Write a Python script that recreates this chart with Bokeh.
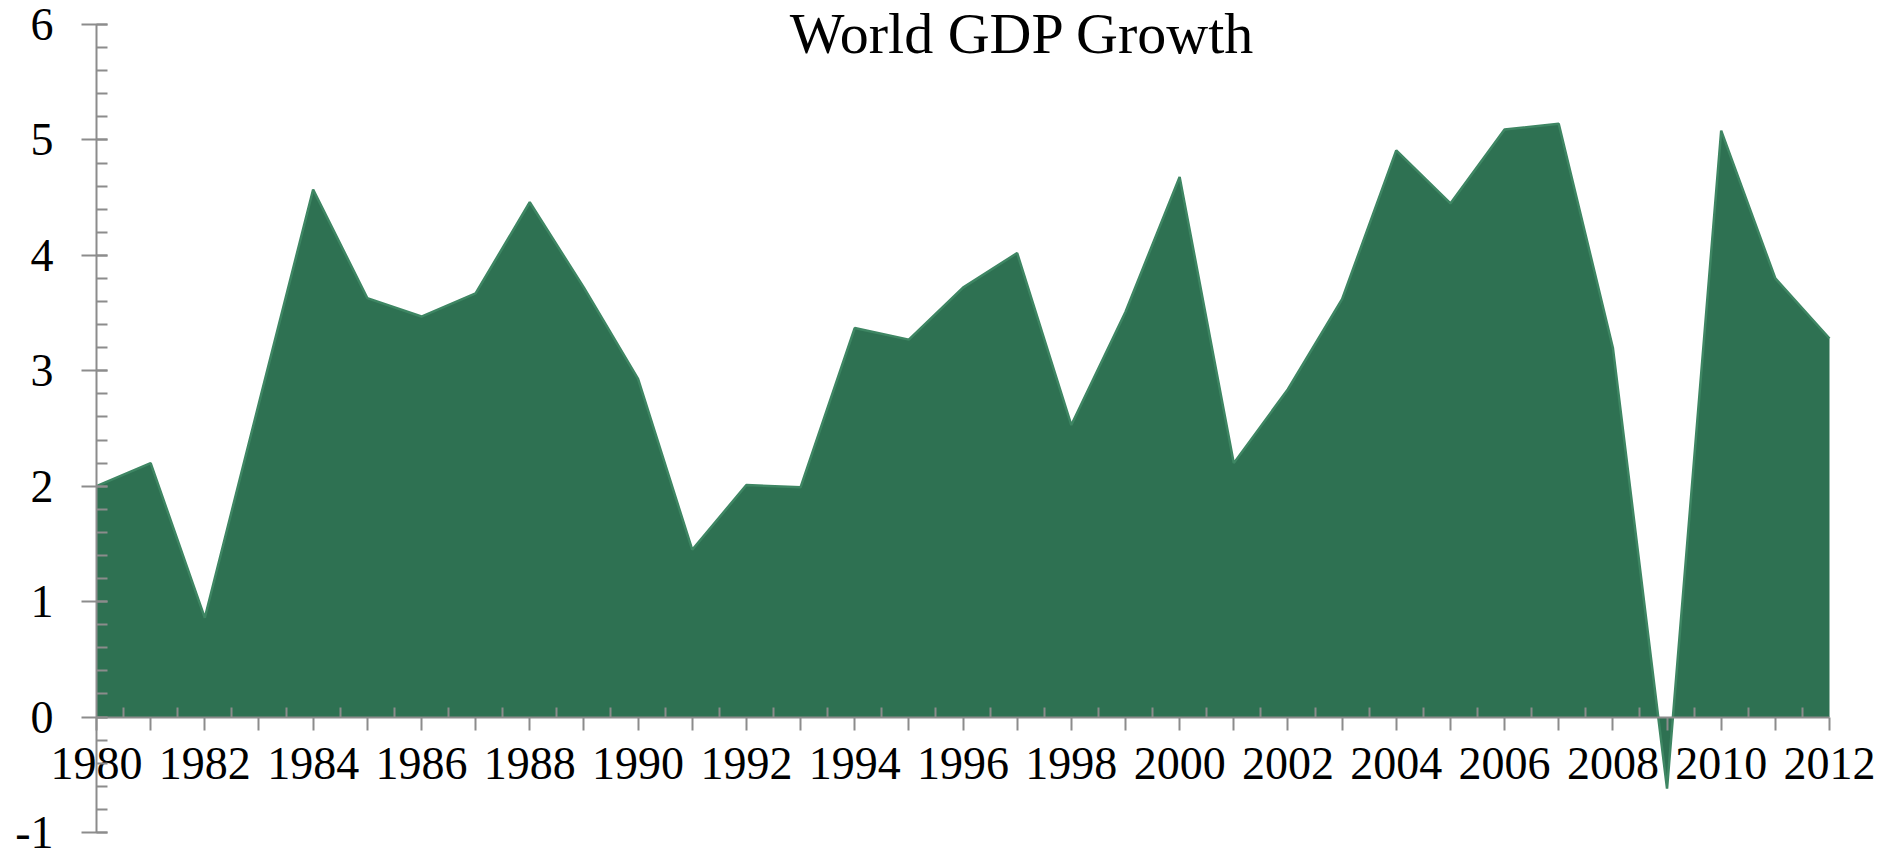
from bokeh.plotting import figure
from bokeh.models import FixedTicker, Range1d, Label
from bokeh.embed import file_html
from bokeh.resources import INLINE

years = list(range(1980, 2013))
growth = [2.0, 2.2, 0.86, 2.72, 4.57, 3.63, 3.47, 3.67, 4.46, 3.72, 2.93,
          1.45, 2.01, 1.99, 3.37, 3.27, 3.72, 4.02, 2.53, 3.51, 4.68,
          2.2, 2.84, 3.62, 4.91, 4.45, 5.09, 5.14, 3.2, -0.62, 5.08, 3.8, 3.28]
title_text = "World GDP Growth"
y_ticks = [-1, 0, 1, 2, 3, 4, 5, 6]
y_tick_labels = ["-1", "0", "1", "2", "3", "4", "5", "6"]

FONT = "Liberation Serif"
GREEN = "#2E7152"
AXIS = "#8C8C8C"

W, H = 1893, 858
# frame covers the whole canvas; axes are placed at fixed data locations
px_per_year = (1829 - 96) / (years[-1] - years[0])
x_lo = years[0] - 96 / px_per_year
x_hi = years[-1] + (W - 1829) / px_per_year
px_per_unit = (832 - 24) / (y_ticks[-1] - y_ticks[0])
y_lo = y_ticks[0] - (H - 832) / px_per_unit
y_hi = y_ticks[-1] + 24 / px_per_unit

p = figure(width=W, height=H, output_backend="svg", toolbar_location=None,
           x_range=Range1d(x_lo, x_hi), y_range=Range1d(y_lo, y_hi),
           min_border_left=0, min_border_right=0, min_border_top=0,
           min_border_bottom=0)
p.outline_line_color = None
p.grid.visible = False
p.background_fill_color = "white"
p.border_fill_color = "white"

p.varea(x=years, y1=[0] * len(years), y2=growth, fill_color=GREEN)
p.line(x=years, y=growth, line_color="#3E8663", line_width=2.5)

# x axis drawn at y = 0, spanning the data years
xa = p.xaxis[0]
xa.fixed_location = 0
xa.bounds = (years[0], years[-1])
xa.ticker = FixedTicker(ticks=years, minor_ticks=[y + 0.5 for y in years[:-1]])
xa.major_label_overrides = {y: (str(y) if y % 2 == 0 else "") for y in years}
xa.axis_line_color = AXIS
xa.axis_line_width = 2
xa.major_tick_line_color = AXIS
xa.major_tick_line_width = 2
xa.major_tick_out = 13
xa.major_tick_in = 0
xa.minor_tick_line_color = AXIS
xa.minor_tick_line_width = 2
xa.minor_tick_in = 10
xa.minor_tick_out = 0
xa.major_label_text_font = FONT
xa.major_label_text_font_size = "46px"
xa.major_label_text_color = "black"
xa.major_label_standoff = 18

# y axis drawn at the first year, from -1 to 6
ya = p.yaxis[0]
ya.fixed_location = years[0]
ya.bounds = (y_ticks[0], y_ticks[-1])
ya.ticker = FixedTicker(ticks=y_ticks, minor_ticks=[v / 5 for v in range(-5, 31)])
ya.major_label_overrides = dict(zip(y_ticks, y_tick_labels))
ya.axis_line_color = AXIS
ya.axis_line_width = 2
ya.major_tick_line_color = AXIS
ya.major_tick_line_width = 2
ya.major_tick_out = 15
ya.major_tick_in = 11
ya.minor_tick_line_color = AXIS
ya.minor_tick_line_width = 2
ya.minor_tick_in = 11
ya.minor_tick_out = 0
ya.major_label_text_font = FONT
ya.major_label_text_font_size = "46px"
ya.major_label_text_color = "black"
ya.major_label_standoff = 28

p.add_layout(Label(x=1997.1, y=y_hi, text=title_text, text_font=FONT,
                   text_font_size="58px", text_align="center",
                   text_baseline="top", text_color="black"))

open("out.html", "w").write(file_html(p, INLINE))
